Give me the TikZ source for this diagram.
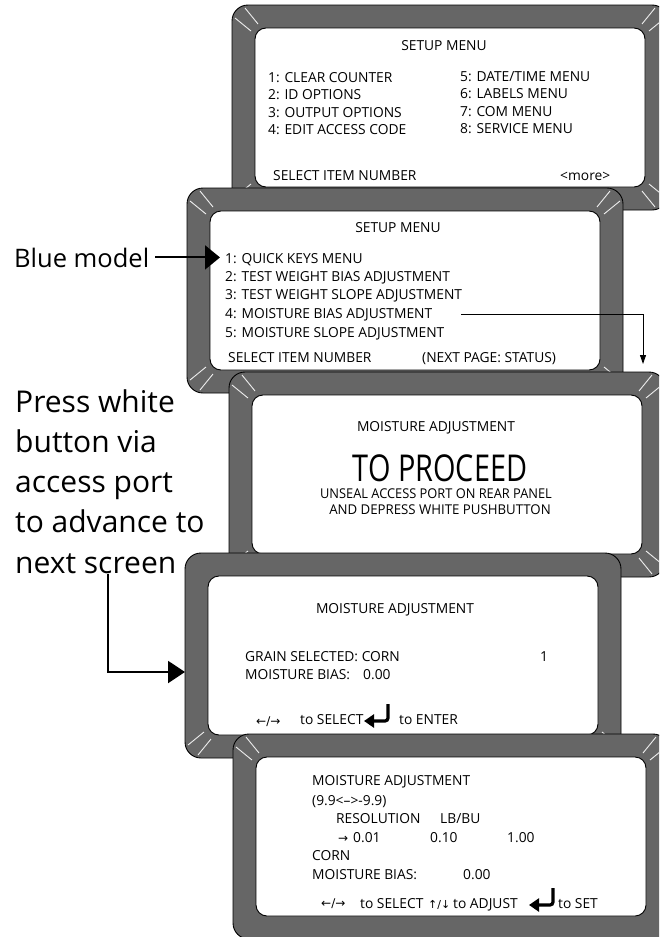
\documentclass[tikz,border=0pt]{standalone}
\usepackage{fontspec}
\usepackage{graphicx}
\setmainfont{Open Sans}
\newfontfamily\arrowfont{DejaVu Sans}
\usetikzlibrary{arrows.meta,calc}
\definecolor{bezelgray}{HTML}{666666}
\definecolor{bevelwhite}{HTML}{EEEEEE}

\tikzset{
  bezel/.style={fill=bezelgray, draw=black, line width=0.9pt, rounded corners=16pt},
  screen/.style={fill=white, draw=black, line width=0.9pt, rounded corners=11pt},
  bevel/.style={bevelwhite, line width=0.9pt},
  lcd/.pic={
    \draw[bezel] (0,0) rectangle (436,205);
    \draw[screen] (23,23) rectangle (413,182);
  },
  topbevels/.pic={
    \draw[bevel] (13,3) -- (26,19) (3,13) -- (19,26);
    \draw[bevel] (423,3) -- (410,19) (433,13) -- (417,26);
  },
  botbevels/.pic={
    \draw[bevel] (13,202) -- (26,186) (3,192) -- (19,179);
    \draw[bevel] (423,202) -- (410,186) (433,192) -- (417,179);
  },
  enterkey/.pic={
    \draw[line width=3.2pt, rounded corners=3pt, -{Triangle[length=10pt,width=13pt]}] (0,0) -- (0,17) -- (-24,17);
  },
  lcdtext/.style={font=\fontsize{13.8}{16}\selectfont, inner sep=0pt, anchor=base west},
  lcdtitle/.style={lcdtext, anchor=base},
  symtext/.style={font=\arrowfont\fontsize{12}{14}\selectfont, inner sep=0pt, anchor=base west},
  bigtext/.style={font=\fontsize{30}{40.25}\selectfont, inner sep=0pt, anchor=base west, align=left},
  bigarrow/.style={line width=2pt, -{Triangle[length=17pt,width=22pt]}},
  thinarrow/.style={line width=0.9pt, -{Triangle[length=9pt,width=6pt]}},
}

\begin{document}
\begin{tikzpicture}[x=1pt, y=-1pt]

  \useasboundingbox (0,0) rectangle (659,937);
  \clip (0,0) rectangle (659,937);

  % Screen 1: setup menu, page 1
  \pic at (232,5) {lcd};
  \pic at (232,5) {topbevels};
  \pic at (232,5) {botbevels};
  \node[lcdtitle] (s1title) at (444,50) {SETUP MENU};
  \node[lcdtext] (s1a) at (268,82) {1: CLEAR COUNTER};
  \node[lcdtext] (s1b) at (268,99.5) {2: ID OPTIONS};
  \node[lcdtext] (s1c) at (268,117) {3: OUTPUT OPTIONS};
  \node[lcdtext] (s1d) at (268,134) {4: EDIT ACCESS CODE};
  \node[lcdtext] (s1e) at (460,81.5) {5: DATE/TIME MENU};
  \node[lcdtext] (s1f) at (460,98.5) {6: LABELS MENU};
  \node[lcdtext] (s1g) at (460,116) {7: COM MENU};
  \node[lcdtext] (s1h) at (460,133) {8: SERVICE MENU};
  \node[lcdtext] (s1sel) at (273,180) {SELECT ITEM NUMBER};
  \node[lcdtext] (s1more) at (560,180) {<more>};

  % Screen 2: setup menu, blue model
  \pic at (187,188) {lcd};
  \pic at (187,188) {topbevels};
  \pic at (187,188) {botbevels};
  \node[lcdtitle] (s2title) at (398,232) {SETUP MENU};
  \node[lcdtext] (q1) at (225,263) {1: QUICK KEYS MENU};
  \node[lcdtext] (q2) at (225,281) {2: TEST WEIGHT BIAS ADJUSTMENT};
  \node[lcdtext] (q3) at (225,299.5) {3: TEST WEIGHT SLOPE ADJUSTMENT};
  \node[lcdtext] (q4) at (225,318) {4: MOISTURE BIAS ADJUSTMENT};
  \node[lcdtext] (q5) at (225,337) {5: MOISTURE SLOPE ADJUSTMENT};
  \node[lcdtext] (s2sel) at (228,362) {SELECT ITEM NUMBER};
  \node[lcdtext] (s2next) at (422,362) {(NEXT PAGE: STATUS)};

  % Side labels (multi-line node sits on its last baseline)
  \node[bigtext, font=\fontsize{25.5}{30}\selectfont] (blue) at (14,267) {Blue model};
  \node[bigtext] (press) at (15,573) {Press white\\button via\\access port\\to advance to\\next screen};

  \draw[line width=2pt, -{Triangle[length=15pt,width=24pt]}, shorten <=6pt, shorten >=5pt]
    (blue.east) -- (blue.east -| q1.west);

  % Moisture bias item leads down to the next screen
  \coordinate (s3drop) at (643,364);
  \draw[thinarrow, shorten <=29pt] (q4.east) -| (s3drop);

  % Screen 3: access port prompt
  \pic at (229,372) {lcd};
  \pic at (229,372) {topbevels};
  \pic at (229,372) {botbevels};
  \node[lcdtitle] (s3title) at (436,431) {MOISTURE ADJUSTMENT};
  \node[lcdtitle, font=\fontsize{37}{40}\selectfont] (s3big) at (440,481) {\scalebox{0.78}[1]{TO PROCEED}};
  \node[lcdtitle, font=\fontsize{13.5}{16}\selectfont] (s3l1) at (436,498.5) {\scalebox{0.95}[1]{UNSEAL ACCESS PORT ON REAR PANEL}};
  \node[lcdtitle, font=\fontsize{13.5}{16}\selectfont] (s3l2) at (440,514.5) {\scalebox{0.98}[1]{AND DEPRESS WHITE PUSHBUTTON}};

  % Screen 4: grain selection
  \pic at (185,553) {lcd};
  \pic at (185,553) {botbevels};
  \node[lcdtitle] (s4title) at (395,613) {MOISTURE ADJUSTMENT};
  \node[lcdtext] (s4grain) at (245,661) {GRAIN SELECTED: CORN};
  \node[lcdtext] (s4num) at (540,661) {1};
  \node[lcdtext] (s4bias) at (245,679) {MOISTURE BIAS:};
  \node[lcdtext] (s4val) at (363,679) {0.00};
  \node[symtext] (s4lr) at (256,725) {←/→};
  \node[lcdtext] (s4sel) at (300,724) {to SELECT};
  \pic at (388,704) {enterkey};
  \node[lcdtext] (s4ent) at (399,724) {to ENTER};

  \coordinate (s4in) at (185,672);
  \coordinate (bend) at (108,672);
  \draw[bigarrow] (press.south -| bend) -- (bend) -- (s4in);

  % Screen 5: bias value entry
  \pic at (233,734) {lcd};
  \pic at (233,734) {topbevels};
  \node[lcdtext] (s5title) at (312,785) {MOISTURE ADJUSTMENT};
  \node[lcdtext] (s5range) at (312,805) {(9.9<-->-9.9)};
  \node[lcdtext] (s5res) at (336,823) {RESOLUTION};
  \node[lcdtext] (s5unit) at (440,823) {LB/BU};
  \node[symtext] (s5ptr) at (338,842) {→};
  \node[lcdtext] (s5r1) at (353,842) {0.01};
  \node[lcdtext] (s5r2) at (430,842) {0.10};
  \node[lcdtext] (s5r3) at (507,842) {1.00};
  \node[lcdtext] (s5corn) at (312,860) {CORN};
  \node[lcdtext] (s5bias) at (312,879) {MOISTURE BIAS:};
  \node[lcdtext] (s5val) at (463,879) {0.00};
  \node[symtext] (s5lr) at (321,907) {←/→};
  \node[lcdtext] (s5sel) at (360,908) {to SELECT};
  \node[symtext, font=\arrowfont\fontsize{11}{13}\selectfont] (s5ud) at (428,908) {↑/↓};
  \node[lcdtext] (s5adj) at (453,908) {to ADJUST};
  \pic at (553,888) {enterkey};
  \node[lcdtext] (s5set) at (558,908) {to SET};

\end{tikzpicture}
\end{document}
